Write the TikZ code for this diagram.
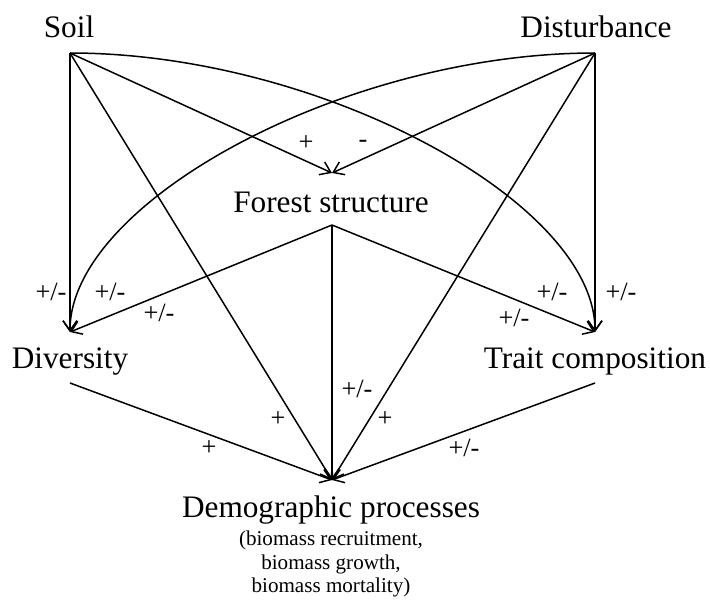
\documentclass[tikz,border=0pt]{standalone}
\usepackage{fontspec}
\setmainfont{Liberation Serif}
\usepackage{tikz}
\usetikzlibrary{arrows.meta, positioning, calc}

\begin{document}
\begin{tikzpicture}[
    x=0.2mm, y=-0.2mm,
    factor/.style={font=\fontsize{17.8}{21}\selectfont, anchor=base, inner sep=0pt},
    detail/.style={font=\fontsize{12}{13.2}\selectfont, anchor=north, align=center, inner sep=0pt},
    sign/.style={font=\fontsize{15}{17}\selectfont, inner sep=0pt},
    arrow/.style={-{Straight Barb[length=2mm, width=2.8mm]}, line width=0.85pt}
]

\useasboundingbox (0,0) rectangle (710,601);

% Factors
\node[factor] (soil) at (69, 37) {Soil};
\node[factor] (dist) at (596, 37) {Disturbance};
\node[factor] (forest) at (331, 212) {Forest structure};
\node[factor] (div) at (70, 368) {Diversity};
\node[factor] (trait) at (595, 368) {Trait composition};
\node[factor] (demo) at (331, 517) {Demographic processes};
\node[detail] (demosub) at (331, 531) {(biomass recruitment,\\biomass growth,\\biomass mortality)};

% Connector end points
\coordinate (soil-o) at (70, 53);
\coordinate (dist-o) at (595, 53);
\coordinate (forest-i) at (332, 173);
\coordinate (forest-o) at (332, 225);
\coordinate (div-i) at (70, 332);
\coordinate (div-o) at (70, 383);
\coordinate (trait-i) at (595, 332);
\coordinate (trait-o) at (595, 383);
\coordinate (demo-i) at (332, 480);

% Into forest structure
\draw[arrow] (soil-o) -- (forest-i);
\draw[arrow] (dist-o) -- (forest-i);

% Into diversity
\draw[arrow] (soil-o) -- (div-i);
\draw[arrow] (dist-o) .. controls +(-250,0) and +(0,-130) .. (div-i);
\draw[arrow] (forest-o) -- (div-i);

% Into trait composition
\draw[arrow] (dist-o) -- (trait-i);
\draw[arrow] (soil-o) .. controls +(250,0) and +(0,-130) .. (trait-i);
\draw[arrow] (forest-o) -- (trait-i);

% Into demographic processes
\draw[arrow] (soil-o) -- (demo-i);
\draw[arrow] (dist-o) -- (demo-i);
\draw[arrow] (forest-o) -- (demo-i);
\draw[arrow] (div-o) -- (demo-i);
\draw[arrow] (trait-o) -- (demo-i);

% Signs
\node[sign] (s-sf) at (306, 143) {+};
\node[sign] (s-df) at (363, 144) {-};
\node[sign] (s-sd) at (51, 292) {+/-};
\node[sign] (s-dd) at (110, 292) {+/-};
\node[sign] (s-fd) at (159, 313) {+/-};
\node[sign] (s-st) at (552, 292) {+/-};
\node[sign] (s-dt) at (621, 292) {+/-};
\node[sign] (s-ft) at (514, 318) {+/-};
\node[sign] (s-sm) at (278, 419) {+};
\node[sign] (s-fm) at (357, 389) {+/-};
\node[sign] (s-dm) at (385, 419) {+};
\node[sign] (s-vm) at (209, 448) {+};
\node[sign] (s-tm) at (464, 448) {+/-};

\end{tikzpicture}
\end{document}
